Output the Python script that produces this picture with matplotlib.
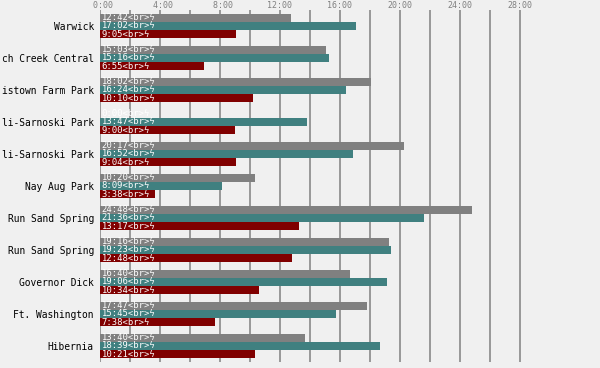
import numpy as np
import matplotlib
matplotlib.use("Agg")
import matplotlib.pyplot as plt

courses = ["Warwick", "ch Creek Central", "istown Farm Park", "li-Sarnoski Park",
           "li-Sarnoski Park", "Nay Aug Park", "Run Sand Spring", "Run Sand Spring",
           "Governor Dick", "Ft. Washington", "Hibernia"]
grey_times = ["12:42", "15:03", "18:02", "0:00", "20:17", "10:20", "24:48", "19:16", "16:40", "17:47", "13:40"]
teal_times = ["17:02", "15:16", "16:24", "13:47", "16:52", "8:09", "21:36", "19:23", "19:06", "15:45", "18:39"]
red_times = ["9:05", "6:55", "10:10", "9:00", "9:04", "3:38", "13:17", "12:48", "10:34", "7:38", "10:21"]
tick_labels = [" 0:00", " 4:00", " 8:00", "12:00", "16:00", "20:00", "24:00", "28:00"]

BG = "#f0f0f0"
COLORS = ["#808080", "#408080", "#800000"]


def to_min(s):
    m, sec = s.split(":")
    return int(m) + int(sec) / 60.0


fig = plt.figure(figsize=(6.0, 3.68), dpi=100, facecolor=BG)
ax = fig.add_axes([100 / 600, 6 / 368, 500 / 600, 352 / 368])
ax.set_facecolor(BG)

y = np.arange(len(courses))
h = 0.265
offsets = [-h, 0.0, h]

# grid every 2 minutes up to 28:00
for x in np.arange(0, 29, 2):
    ax.axvline(x, color="#808080", linewidth=1.1, zorder=1)

for series, off, col in zip([grey_times, teal_times, red_times], offsets, COLORS):
    vals = [to_min(s) for s in series]
    ax.barh(y + off, vals, height=h - 0.015, color=col, zorder=2)
    for yi, s in zip(y, series):
        ax.text(0.1, yi + off, s + "<br>ϟ", color="white", fontsize=6.4,
                family=["DejaVu Sans Mono", "DejaVu Sans"], va="center", ha="left", zorder=3)

ax.set_xlim(0, 500 / 15)
ax.set_ylim(len(courses) - 0.5, -0.5)

ax.set_yticks(y)
ax.set_yticklabels(courses, family="DejaVu Sans Mono", fontsize=6.95, color="black")
ax.xaxis.tick_top()
ax.set_xticks(np.arange(0, 29, 4))
ax.set_xticklabels(tick_labels, family="DejaVu Sans Mono", fontsize=6, color="#808080")
ax.tick_params(axis="both", length=0)
ax.tick_params(axis="y", pad=4.5)
ax.tick_params(axis="x", pad=0)
for sp in ax.spines.values():
    sp.set_visible(False)

fig.savefig("out.png", dpi=100, facecolor=BG)
